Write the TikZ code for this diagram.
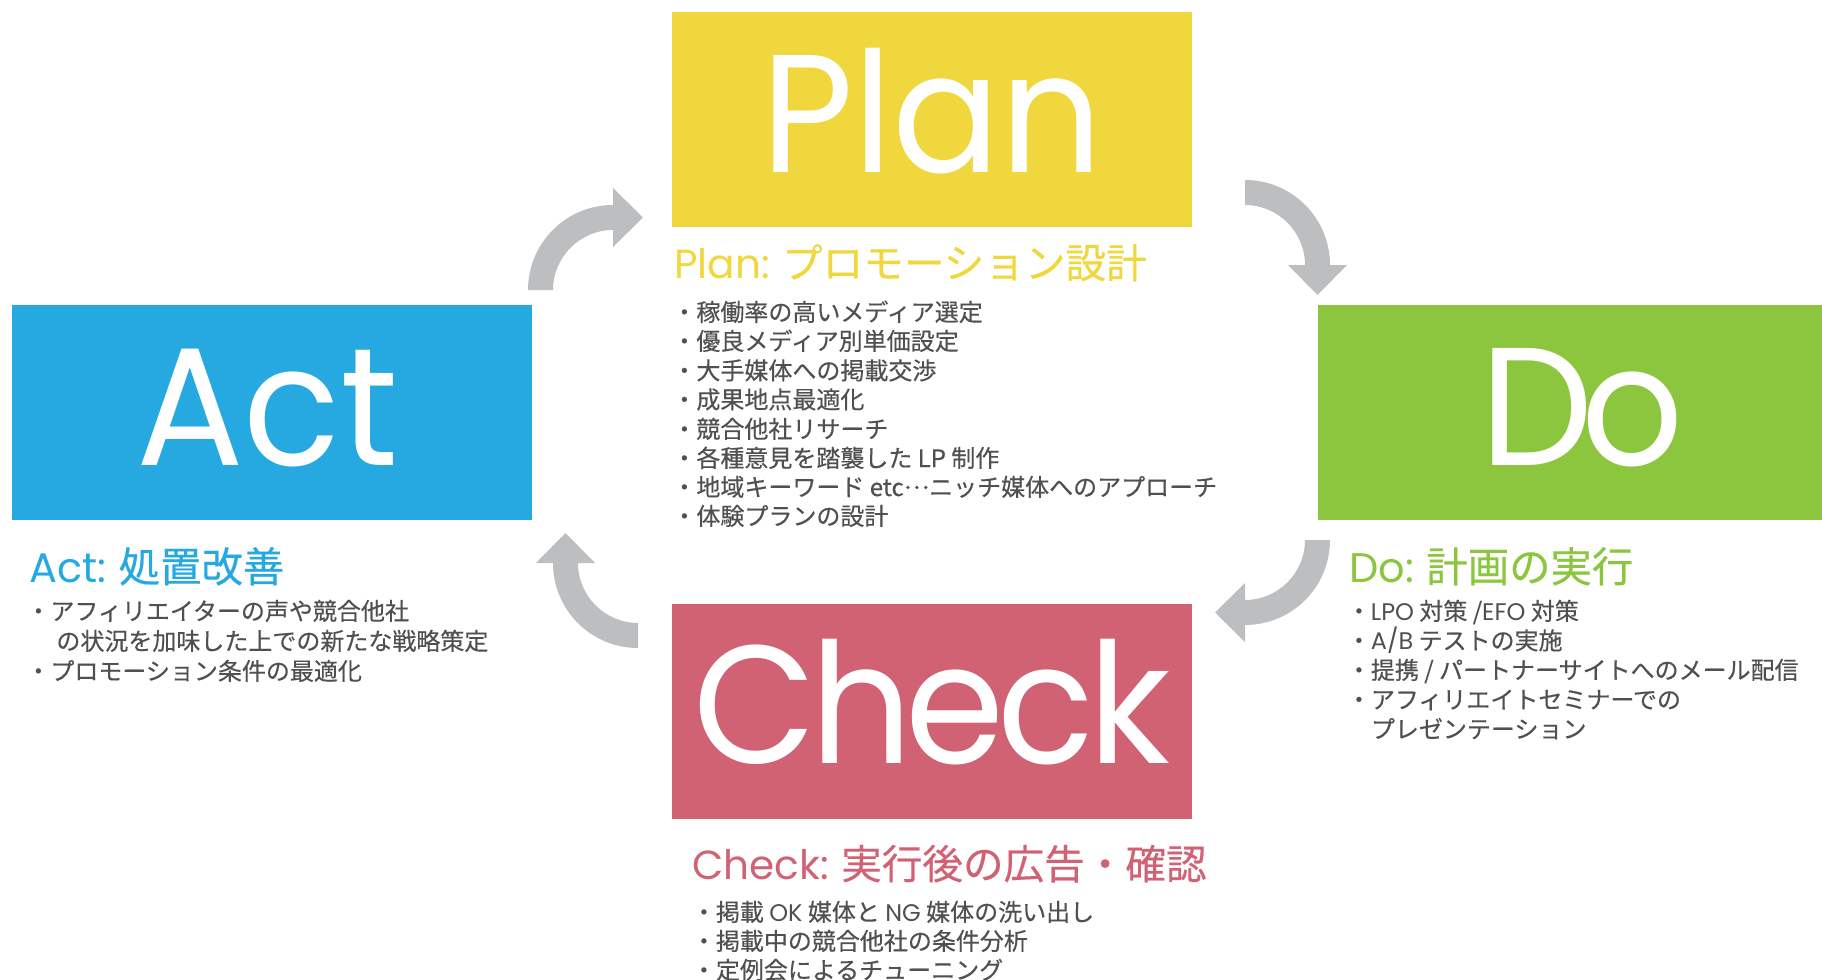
\documentclass[tikz,border=0pt]{standalone}
\usepackage{fontspec}
\setmainfont{Noto Sans CJK JP}[FakeBold=0.4]
\newfontfamily\pop{Poppins}
\newfontfamily\popbig{Poppins}[FakeStretch=0.95]
\newcommand\lat[1]{{\pop #1}}
\definecolor{planY}{HTML}{EFD73D}
\definecolor{actB}{HTML}{26A9E0}
\definecolor{doG}{HTML}{8CC63F}
\definecolor{checkR}{HTML}{D06274}
\definecolor{arrowgray}{HTML}{BCBEC0}
\definecolor{txt}{HTML}{505050}
\begin{document}
\begin{tikzpicture}[x=0.5pt,y=-0.5pt,
  box/.style={inner sep=0pt, minimum width=260pt, text height=80pt, text depth=27.5pt,
    text=white, font=\popbig\fontsize{84}{84}\selectfont},
  head/.style={anchor=base west, inner sep=0pt, font=\fontsize{20.3}{21}\selectfont},
  bighead/.style={anchor=base west, inner sep=0pt, font=\fontsize{20.7}{22}\selectfont},
  item/.style={anchor=base west, inner sep=0pt, text=txt, font=\fontsize{12}{13}\selectfont},
  arr/.style={fill=arrowgray, draw=none}]
\useasboundingbox (0,0) rectangle (1822,980);

% boxes
\node[box, fill=planY]  (plan)  at (932,119.5) {Plan};
\node[box, fill=actB]   (act)   at (271.5,412.5) {\hspace*{-4pt}Act};
\node[box, fill=doG]    (do)    at (1578,412.5) {\addfontfeatures{LetterSpace=-7}\hspace*{4pt}Do};
\node[box, fill=checkR] (check) at (932,711) {\addfontfeatures{LetterSpace=-4}Check};

% arrows
\fill[arr] (528,290) .. controls (528,243) and (566,205) .. (613,205) -- (613,188)
  -- (643,217.5) -- (613,247) -- (613,230) .. controls (580,230) and (553,257) .. (553,290) -- cycle;
\fill[arr] (1245,180) .. controls (1292,180) and (1330,218) .. (1330,265) -- (1347,265)
  -- (1317.5,295) -- (1288,265) -- (1305,265) .. controls (1305,232) and (1278,205) .. (1245,205) -- cycle;
\fill[arr] (1330,540) .. controls (1330,587) and (1292,625) .. (1245,625) -- (1245,642)
  -- (1215,612.5) -- (1245,583) -- (1245,600) .. controls (1278,600) and (1305,573) .. (1305,540) -- cycle;
\fill[arr] (638,648) .. controls (591,648) and (553,610) .. (553,563) -- (536,563)
  -- (565.5,533) -- (595,563) -- (578,563) .. controls (578,596) and (605,623) .. (638,623) -- cycle;

% Plan text
\node[head, text=planY] (planh) at (674,278) {\lat{Plan:} プロモーション設計};
\node[item] (p1) at (672,321) {・稼働率の高いメディア選定};
\node[item] (p2) at (672,350) {・優良メディア別単価設定};
\node[item] (p3) at (672,379.5) {・大手媒体への掲載交渉};
\node[item] (p4) at (672,408.5) {・成果地点最適化};
\node[item] (p5) at (672,438) {・競合他社リサーチ};
\node[item] (p6) at (672,467) {・各種意見を踏襲した LP 制作};
\node[item] (p7) at (672,496) {・地域キーワード etc\smash{\raisebox{0.3em}{…}}ニッチ媒体へのアプローチ};
\node[item] (p8) at (672,525) {・体験プランの設計};

% Act text
\node[bighead, text=actB] (acth) at (29,582) {\lat{Act:} 処置改善};
\node[item] (a1) at (26,620) {・アフィリエイターの声や競合他社};
\node[item] (a2) at (26,650) {\hspace*{1.25em}の状況を加味した上での新たな戦略策定};
\node[item] (a3) at (26,680) {・プロモーション条件の最適化};

% Do text
\node[bighead, text=doG] (doh) at (1349,582) {\lat{Do:} 計画の実行};
\node[item] (d1) at (1346.5,620) {・\lat{LPO} 対策 /\lat{EFO} 対策};
\node[item] (d2) at (1346.5,649.5) {・\lat{A/B} テストの実施};
\node[item] (d3) at (1346.5,679) {・提携 / パートナーサイトへのメール配信};
\node[item] (d4) at (1346.5,708.5) {・アフィリエイトセミナーでの};
\node[item] (d5) at (1346.5,738) {\hspace*{1em}プレゼンテーション};

% Check text
\node[head, text=checkR] (checkh) at (692,879) {\lat{Check:} 実行後の広告・確認};
\node[item] (c1) at (691.5,921) {・掲載 \lat{OK} 媒体と \lat{NG} 媒体の洗い出し};
\node[item] (c2) at (691.5,950) {・掲載中の競合他社の条件分析};
\node[item] (c3) at (691.5,979) {・定例会によるチューニング};
\end{tikzpicture}
\end{document}
